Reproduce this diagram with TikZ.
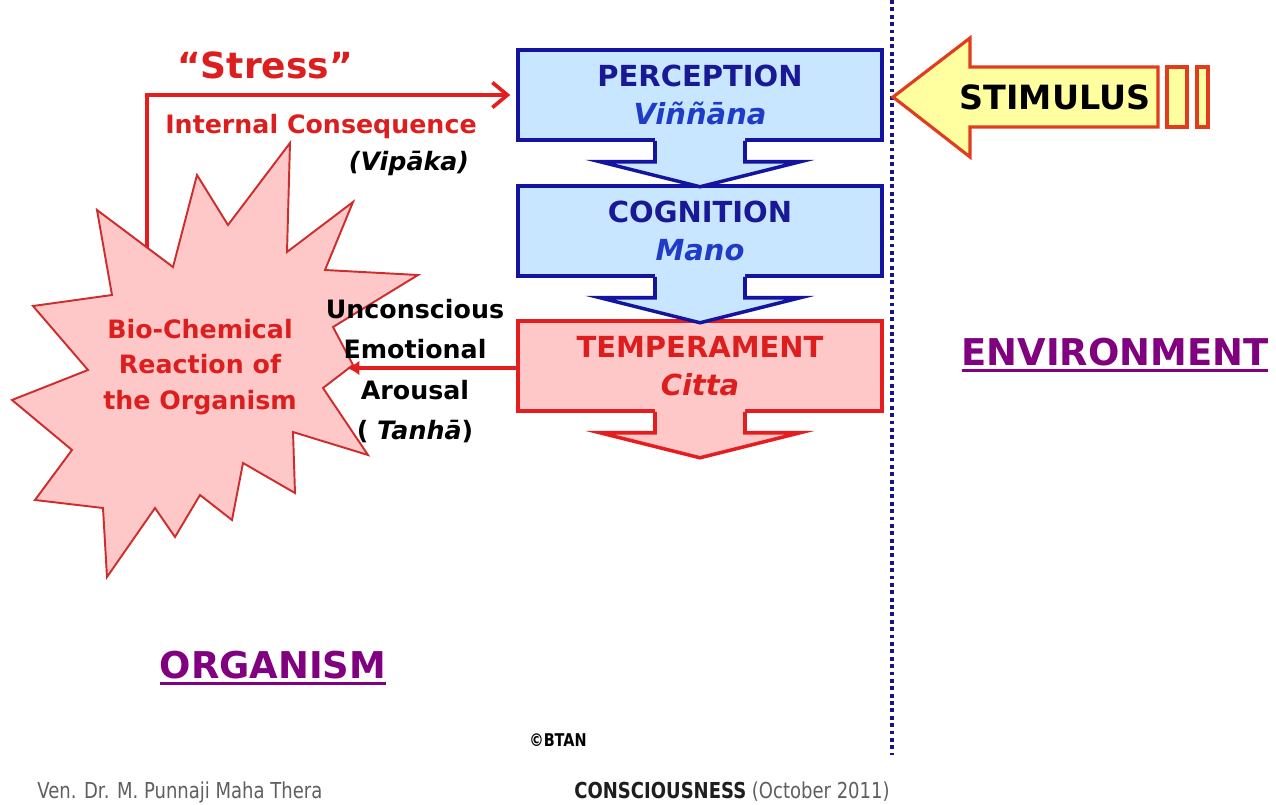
\documentclass[tikz,border=0pt]{standalone}
\usepackage{fontspec}
\setmainfont{DejaVu Sans}
\newfontfamily\footfont[FakeStretch=0.82]{DejaVu Sans}
\usetikzlibrary{arrows.meta,calc}

\definecolor{fillblue}{RGB}{200,230,255}
\definecolor{lineblue}{RGB}{20,20,160}
\definecolor{textblue}{RGB}{25,25,150}
\definecolor{italicblue}{RGB}{30,60,200}
\definecolor{fillred}{RGB}{255,200,200}
\definecolor{linered}{RGB}{228,30,30}
\definecolor{textred}{RGB}{220,30,30}
\definecolor{burstline}{RGB}{205,45,45}
\definecolor{stimfill}{RGB}{255,255,160}
\definecolor{stimline}{RGB}{225,60,30}
\definecolor{regionpurple}{RGB}{128,0,128}
\definecolor{dotblue}{RGB}{20,20,140}
\definecolor{footgray}{RGB}{95,95,95}
\definecolor{titleblack}{RGB}{30,30,30}

% thick underline for the region names
\newcommand\thickunder[1]{\setbox0=\hbox{#1}\rlap{\rule[-4pt]{\wd0}{1.6pt}}\box0}

\tikzset{
  stage/.style={rectangle, line width=2pt, minimum width=7.28cm, minimum height=1.8cm,
    align=center, font=\bfseries\fontsize{16.5}{21.5}\selectfont},
  bluestage/.style={stage, draw=lineblue, fill=fillblue, text=textblue},
  redstage/.style={stage, draw=linered, fill=fillred, text=textred},
  redlabel/.style={text=textred, align=center, font=\bfseries\fontsize{14.4}{20.4}\selectfont},
  blacklabel/.style={text=black, align=center, font=\bfseries\fontsize{14.4}{23}\selectfont},
  region/.style={text=regionpurple, font=\bfseries\fontsize{21}{25}\selectfont},
  footer/.style={text=footgray, anchor=west, inner sep=0pt, font=\footfont\fontsize{12.5}{15}\selectfont},
  burst/.style={draw=burstline, fill=fillred, line width=1.1pt, line join=miter},
  stimshape/.style={draw=stimline, fill=stimfill, line width=1.8pt},
  stressarrow/.style={draw=linered, line width=2.1pt, -{Straight Barb[length=0.3cm,width=0.5cm]}, shorten >=0.12cm},
  arousalarrow/.style={draw=linered, line width=2pt, -{Latex[length=0.25cm,width=0.3cm]}},
  divider/.style={draw=dotblue, line width=2.2pt, dotted},
}

% block arrow hanging under a stage box: #1 node, #2 fill, #3 line
\newcommand\flowdown[3]{%
  \fill[#2] ($(#1.south)+(-45,-5)$) -- ($(#1.south)+(-45,20)$) -- ($(#1.south)+(-100,20)$)
    -- ($(#1.south)+(0,45)$) -- ($(#1.south)+(100,20)$) -- ($(#1.south)+(45,20)$)
    -- ($(#1.south)+(45,-5)$) -- cycle;
  \draw[#3, line width=2pt, line join=miter] ($(#1.south)+(-45,-1)$) -- ($(#1.south)+(-45,20)$)
    -- ($(#1.south)+(-100,20)$) -- ($(#1.south)+(0,45)$) -- ($(#1.south)+(100,20)$)
    -- ($(#1.south)+(45,20)$) -- ($(#1.south)+(45,-1)$);
}

\begin{document}
\begin{tikzpicture}[x=0.02cm, y=-0.02cm]
        \fill[white] (0,0) rectangle (1276,805);
        \useasboundingbox (0,0) rectangle (1276,805);

        % boundary between organism and environment
        \draw[divider] (892,0) -- (892,755);

        % stages
        \node[bluestage] (perception) at (700,95) {PERCEPTION\\\textcolor{italicblue}{\itshape Viññāna}};
        \node[bluestage] (cognition) at (700,231) {COGNITION\\\textcolor{italicblue}{\itshape Mano}};
        \node[redstage] (temperament) at (700,366) {TEMPERAMENT\\{\itshape Citta}};
        \flowdown{perception}{fillblue}{lineblue}
        \flowdown{cognition}{fillblue}{lineblue}
        \flowdown{temperament}{fillred}{linered}

        % stimulus
        \filldraw[stimshape] (893,97) -- (970,38) -- (970,67) -- (1158,67) -- (1158,127)
            -- (970,127) -- (970,157) -- cycle;
        \filldraw[stimshape] (1167,67) rectangle (1187,127);
        \filldraw[stimshape] (1197,67) rectangle (1208,127);
        \node[font=\bfseries\fontsize{19}{22}\selectfont] (stimulus) at (1055,97) {STIMULUS};

        % stress loop
        \coordinate (burstroot) at (147,255);
        \draw[stressarrow] (burstroot) |- (perception.west);
        \node[text=textred, font=\bfseries\fontsize{20.5}{24}\selectfont] (stress) at (265,65) {“Stress”};
        \node[redlabel] (consequence) at (321,127) {Internal Consequence};
        \node[blacklabel, font=\bfseries\itshape\fontsize{14.4}{20}\selectfont] (vipaka) at (409,163) {(Vipāka)};

        % reaction of the organism
        \filldraw[burst] (290,143) -- (287,252) -- (353,202) -- (325,270) -- (418,275) -- (333,327)
            -- (353,365) -- (323,388) -- (368,455) -- (293,432) -- (295,493) -- (243,463)
            -- (232,520) -- (200,495) -- (175,537) -- (155,508) -- (107,577) -- (103,508)
            -- (35,500) -- (72,450) -- (12,400) -- (88,370) -- (33,306) -- (112,295)
            -- (97,210) -- (173,267) -- (197,175) -- (228,225) -- cycle;
        \node[redlabel] (biochem) at (200,367) {Bio-Chemical\\Reaction of\\the Organism};

        \node[blacklabel] (emotion) at (415,371) {Unconscious\\Emotional\\Arousal\\( \textit{Tanhā})};
        \coordinate (bursttip) at (347,368);
        \draw[arousalarrow] (temperament.west |- 0,368) -- (bursttip);

        % regions
        \node[region] (environment) at (1115,355) {\thickunder{ENVIRONMENT}};
        \node[region] (organism) at (273,668) {\thickunder{ORGANISM}};

        % footer
        \node[footer, text=black, font=\footfont\bfseries\fontsize{10}{12}\selectfont] (btan) at (529,740) {©BTAN};
        \node[footer] (author) at (37,792) {Ven. Dr. M. Punnaji Maha Thera};
        \node[footer] (title) at (574,792) {\textcolor{titleblack}{\bfseries CONSCIOUSNESS} (October 2011)};
\end{tikzpicture}
\end{document}
